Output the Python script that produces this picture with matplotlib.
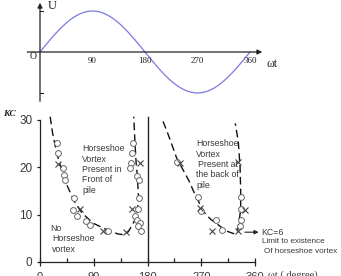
import matplotlib.pyplot as plt
import numpy as np

# ── Data ──────────────────────────────────────────────────────────────────────

# top panel: free-stream velocity over one wave period
phase_deg = np.arange(0, 361, 5)
velocity = np.sin(np.radians(phase_deg))
phase_ticks = [90, 180, 270, 360]

# bottom panel: horseshoe-vortex boundaries (dashed)
front_x = [17, 21, 28, 36, 45, 56, 70, 89, 112, 131, 140, 148, 156, 162, 165, 163, 161, 159, 157]
front_kc = [30.7, 27.3, 23.0, 19.5, 16.3, 13.1, 10.4, 8.2, 6.8, 5.9, 5.8, 6.4, 8.2, 9.7, 13.5, 18.2, 20.9, 25.2, 30.7]
back_x = [206, 212, 218, 229, 242, 250, 258, 274, 286, 299, 311, 324, 330, 332, 336, 336, 335, 332, 327]
back_kc = [29.7, 27.8, 25.8, 21.9, 18.9, 17.0, 14.7, 10.6, 9.0, 7.8, 6.6, 6.0, 6.2, 7.5, 11.0, 15.2, 20.1, 25.4, 29.3]

# measured points: open circles and crosses
circle_x = [28, 30.6, 39, 40.7, 41.9, 56.9, 54.7, 61.5, 77, 83.7, 114.4,
            155.2, 153.5, 152.4, 150.7, 161.9, 165.3, 166.3, 163.6, 159, 162, 167.4, 164.6, 168.6,
            228.8, 265, 269, 294.7, 304.2, 336, 336, 336, 335]
circle_kc = [25.1, 23.0, 19.8, 18.4, 17.3, 13.6, 11.0, 9.7, 8.7, 7.8, 6.6,
             25.1, 23.0, 20.9, 19.8, 18.2, 17.3, 13.5, 11.1, 9.7, 8.9, 8.3, 7.6, 6.6,
             21.2, 13.7, 10.8, 8.9, 6.8, 13.7, 11.1, 8.9, 7.6]
cross_x = [30.6, 67, 106, 144, 153.5, 167.4, 234.4, 268, 287.4, 332, 343.3, 332]
cross_kc = [20.7, 11.1, 6.6, 6.4, 11.1, 21.0, 20.9, 11.4, 6.6, 6.6, 11.0, 21.2]

x_ticks = [0, 90, 180, 270, 360]
x_minor = [45, 135, 225, 315]
y_ticks = [0, 10, 20, 30]

# ── Layout helpers ────────────────────────────────────────────────────────────

W, H = 341, 276
fig = plt.figure(figsize=(W / 100, H / 100), dpi=100)


def box(left, top, right, bottom):
    """Pixel box -> figure fraction rect."""
    return [left / W, 1 - bottom / H, (right - left) / W, (bottom - top) / H]


AX = "#222222"
TXT = "#3a3a3a"
SERIF = "Liberation Serif"
SANS = "Liberation Sans"

# ── Top panel: U(ωt) ──────────────────────────────────────────────────────────

ax_u = fig.add_axes(box(40, 11, 250, 93))
ax_u.set_xlim(0, 360)
ax_u.set_ylim(-1, 1)
ax_u.axis("off")

ax_u.plot(phase_deg, velocity, color="#7b79e2", lw=0.9, clip_on=False)

arrow = dict(arrowstyle="-|>", color=AX, lw=0.9, mutation_scale=7, shrinkA=0, shrinkB=0)
ax_u.annotate("", xy=(381, 0), xytext=(-22, 0), arrowprops=arrow, annotation_clip=False)
ax_u.annotate("", xy=(0, 1.2), xytext=(0, -1.2), arrowprops=arrow, annotation_clip=False)
for yv in (1, -1):
    ax_u.plot([0, 5], [yv, yv], color=AX, lw=0.8, clip_on=False)

for d in phase_ticks:
    ax_u.text(d, -0.22, str(d), ha="center", va="center", fontsize=6.5,
              family=SERIF, color=AX)
ax_u.text(-12, -0.12, "O", ha="center", va="center", fontsize=7, family=SERIF, color=AX)
ax_u.text(21, 1.12, "U", ha="center", va="center", fontsize=9, family=SERIF, color=AX)
ax_u.text(398, -0.29, "ωt", ha="center", va="center", fontsize=8.5, family=SERIF, color=AX)

# ── Bottom panel: KC vs phase ─────────────────────────────────────────────────

ax = fig.add_axes(box(40, 120, 255, 262))
ax.set_xlim(0, 360)
ax.set_ylim(0, 30)
for side in ("top", "right"):
    ax.spines[side].set_visible(False)
for side in ("left", "bottom"):
    ax.spines[side].set_color(AX)
    ax.spines[side].set_linewidth(0.9)

ax.set_xticks(x_ticks)
ax.set_xticks(x_minor, minor=True)
ax.set_yticks(y_ticks)
ax.tick_params(axis="x", which="major", direction="inout", length=6, width=0.9,
               color=AX, labelsize=8, labelcolor=TXT, pad=4.5)
ax.tick_params(axis="x", which="minor", direction="in", length=3, width=0.9, color=AX)
ax.tick_params(axis="y", direction="out", length=2.5, width=0.9, color=AX,
               labelsize=8.5, labelcolor=TXT, pad=3)
for lbl in ax.get_xticklabels() + ax.get_yticklabels():
    lbl.set_family(SANS)

ax.plot([180, 180], [0, 30.7], color=AX, lw=1.0, clip_on=False)

dash = dict(color="#111111", lw=1.0, dashes=(5.5, 3), clip_on=False)
ax.plot(front_x, front_kc, **dash)
ax.plot(back_x, back_kc, **dash)

ax.plot(circle_x, circle_kc, "o", ms=4.2, mfc="white", mec="#666666", mew=0.7,
        clip_on=False, zorder=3)
ax.plot(cross_x, cross_kc, "x", ms=4.3, color="#444444", mew=0.8,
        clip_on=False, zorder=4)

ax.annotate("", xy=(366, 6.3), xytext=(343, 6.3), annotation_clip=False,
            arrowprops=dict(arrowstyle="-|>", color=AX, lw=0.8, mutation_scale=6,
                            shrinkA=0, shrinkB=0))

note = dict(ha="left", va="center", fontsize=6.3, family=SANS, color=TXT, clip_on=False)
limit = dict(note, fontsize=5.9)
ax.text(370, 6.3, "KC=6", **note)
ax.text(372.5, 4.4, "Limit to existence", **limit)
ax.text(375, 2.3, "Of horseshoe vortex", **limit)

front_lines = ["Horseshoe", "Vortex", "Present in", "Front of", "pile"]
for i, line in enumerate(front_lines):
    ax.text(71, 23.9 - 2.18 * i, line, **note)

ax.text(16.7, 7.0, "No", **note)
ax.text(21.3, 4.9, "Horseshoe", **note)
ax.text(19.6, 2.6, "vortex", **note)

back_lines = [(262, 25.1, "Horseshoe"), (261, 22.8, "Vortex"), (265, 20.7, "Present at"),
              (262, 18.4, "the back of"), (262, 16.1, "pile")]
for x0, y0, line in back_lines:
    ax.text(x0, y0, line, **note)

fig.text(3 / W, 1 - 114 / H, "KC", ha="left", va="center", fontsize=6.8,
         family=SERIF, style="italic", weight="bold", color=AX)
fig.text(268 / W, 1 - 270 / H, "ωt ( degree)", ha="left", va="top", fontsize=7.5,
         family=SERIF, color=TXT)

fig.savefig("out.png", dpi=100)
plt.close(fig)
